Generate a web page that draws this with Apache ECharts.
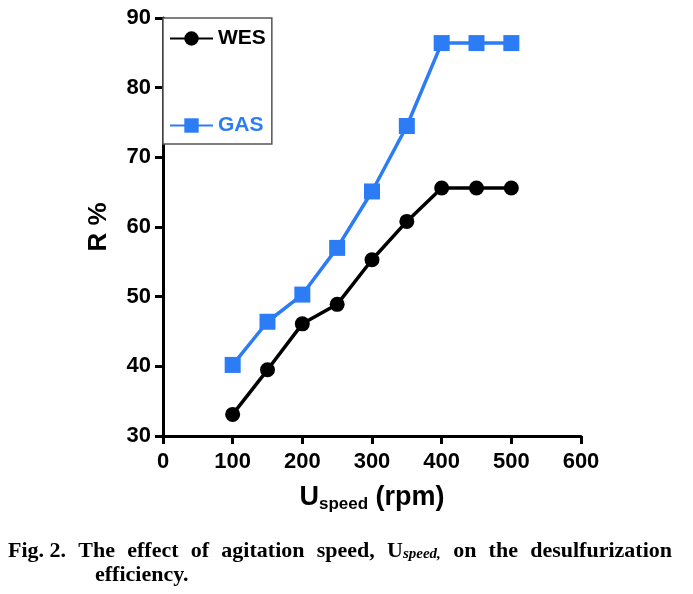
<!DOCTYPE html>
<html><head><meta charset="utf-8">
<script src="https://cdn.jsdelivr.net/npm/echarts@6/dist/echarts.min.js"></script>
<style>html,body{margin:0;padding:0;background:#fff}#c{width:693px;height:594px}</style>
</head><body><div id="c"></div>
<script>
var speeds = [100, 150, 200, 250, 300, 350, 400, 450, 500];
var wes = [33.1, 39.5, 46.1, 48.9, 55.3, 60.8, 65.6, 65.6, 65.6];
var gas = [40.2, 46.4, 50.3, 57.0, 65.1, 74.5, 86.4, 86.4, 86.4];
var xTicks = [0, 100, 200, 300, 400, 500, 600];
var yTicks = [30, 40, 50, 60, 70, 80, 90];
var captionWords = ['Fig. 2.', 'The', 'effect', 'of', 'agitation', 'speed,', 'U|speed,', 'on', 'the', 'desulfurization'];
var captionLine2 = 'efficiency.';
var BLUE = '#2b7cf5';
function pairs(xs, ys){ return xs.map(function(x,i){return [x, ys[i]];}); }

// justified caption layout computed from measured word widths
var CAP_FONT = 'bold 22px "Liberation Serif", "Times New Roman", serif';
var CAP_SUB = 'italic bold 15px "Liberation Serif", "Times New Roman", serif';
var ctx = document.createElement('canvas').getContext('2d');
function wordWidth(w){
  if (w.indexOf('|') >= 0) {
    var p = w.split('|');
    ctx.font = CAP_FONT; var a = ctx.measureText(p[0]).width;
    ctx.font = CAP_SUB; return a + ctx.measureText(p[1]).width;
  }
  ctx.font = CAP_FONT; return ctx.measureText(w).width;
}
var capLeft = 8, capRight = 672;
var widths = captionWords.map(wordWidth);
var total = widths.reduce(function(a,b){return a+b;}, 0);
var gap = (capRight - capLeft - total) / (captionWords.length - 1);
var graphics = [];
var cx = capLeft;
captionWords.forEach(function(w, i){
  var el;
  if (w.indexOf('|') >= 0) {
    var p = w.split('|');
    el = {type:'text', x:cx, y:540, style:{text:'{b|' + p[0] + '}{i|' + p[1] + '}',
      rich:{b:{font:CAP_FONT, fill:'#000'}, i:{font:CAP_SUB, fill:'#000', padding:[7,0,0,0]}}}};
  } else {
    el = {type:'text', x:cx, y:540, style:{text:w, font:CAP_FONT, fill:'#000'}};
  }
  graphics.push(el);
  cx += widths[i] + gap;
});
graphics.push({type:'text', x:95, y:564, style:{text:captionLine2, font:CAP_FONT, fill:'#000'}});

var chart = echarts.init(document.getElementById('c'));
var axisFont = {fontFamily:'Liberation Sans, Arial', fontWeight:'bold', fontSize:22, color:'#000'};
chart.setOption({
  animation:false,
  grid:{left:163, right:112, top:18, bottom:158, containLabel:false},
  xAxis:{type:'value', min:xTicks[0], max:xTicks[xTicks.length-1], interval:100,
    axisLine:{show:true, onZero:false, lineStyle:{color:'#000', width:3}},
    axisTick:{show:true, length:8, lineStyle:{color:'#000', width:3}},
    axisLabel:Object.assign({margin:15}, axisFont),
    splitLine:{show:false},
    name:'{u|U}{s|speed}{r| (rpm)}', nameLocation:'middle', nameGap:46,
    nameTextStyle:{rich:{
      u:{fontFamily:'Liberation Sans, Arial', fontWeight:'bold', fontSize:27, color:'#000'},
      s:{fontFamily:'Liberation Sans, Arial', fontWeight:'bold', fontSize:17, color:'#000', padding:[14,0,0,0]},
      r:{fontFamily:'Liberation Sans, Arial', fontWeight:'bold', fontSize:27, color:'#000'}
    }}
  },
  yAxis:{type:'value', min:yTicks[0], max:yTicks[yTicks.length-1], interval:10,
    axisLine:{show:true, onZero:false, lineStyle:{color:'#000', width:3}},
    axisTick:{show:true, length:8, lineStyle:{color:'#000', width:3}},
    axisLabel:Object.assign({margin:12}, axisFont),
    splitLine:{show:false},
    name:'R %', nameLocation:'middle', nameGap:51, nameRotate:90,
    nameTextStyle:{fontFamily:'Liberation Sans, Arial', fontWeight:'bold', fontSize:26, color:'#000'}
  },
  legend:{orient:'vertical', left:163, top:18, itemWidth:43, itemHeight:18, itemGap:66,
    padding:[10,6,8,6], borderColor:'#555', borderWidth:1.5, backgroundColor:'#fff',
    textStyle:{fontFamily:'Liberation Sans, Arial', fontWeight:'bold', fontSize:21},
    data:[{name:'WES', textStyle:{color:'#000'}},{name:'GAS', textStyle:{color:BLUE}}]
  },
  series:[
    {name:'WES', type:'line', data:pairs(speeds, wes), symbol:'circle', symbolSize:15,
      lineStyle:{color:'#000', width:3.5}, itemStyle:{color:'#000'}},
    {name:'GAS', type:'line', data:pairs(speeds, gas), symbol:'rect', symbolSize:16,
      lineStyle:{color:BLUE, width:3.5}, itemStyle:{color:BLUE}}
  ],
  graphic:graphics
});
</script></body></html>
